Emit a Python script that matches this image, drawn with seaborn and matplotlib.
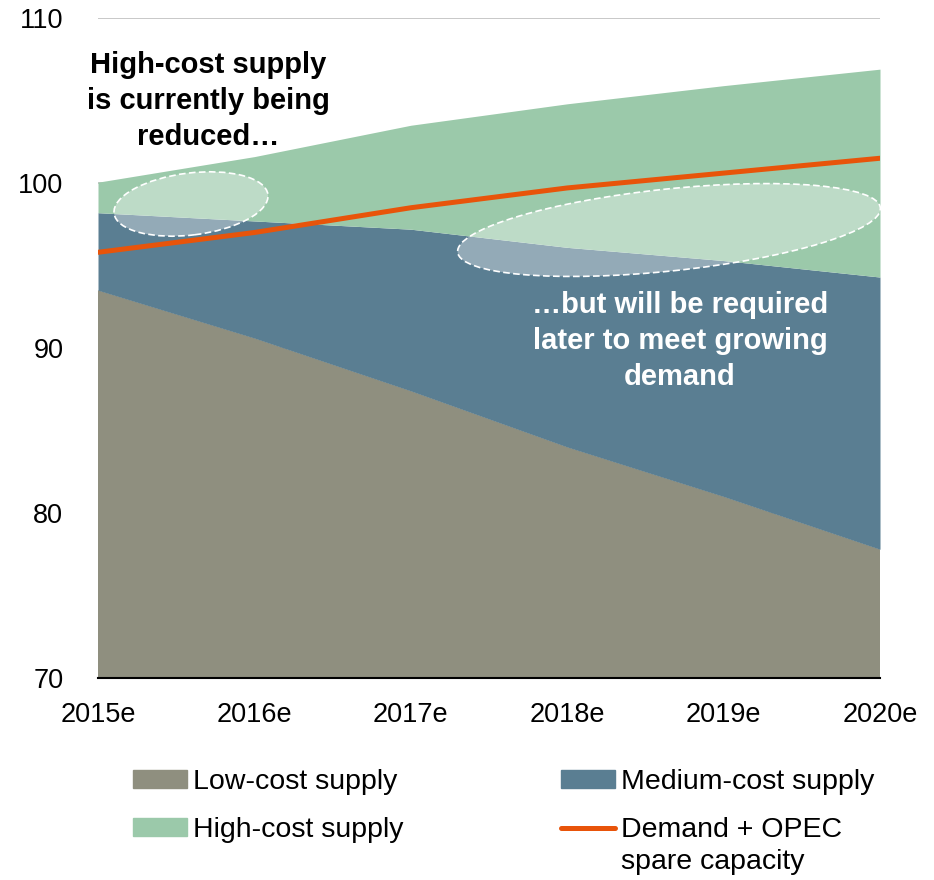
import matplotlib
matplotlib.use('Agg')
import matplotlib.pyplot as plt
from matplotlib.patches import Ellipse, Patch
from matplotlib.lines import Line2D
import seaborn as sns
import pandas as pd

sns.set_theme(style='white')
plt.rcParams['font.family'] = ['Liberation Sans', 'DejaVu Sans']
plt.rcParams['text.color'] = 'black'

# data (mb/d)
years = [2015, 2016, 2017, 2018, 2019, 2020]
year_labels = ['2015e', '2016e', '2017e', '2018e', '2019e', '2020e']
low_cost = [93.5, 90.6, 87.4, 84.0, 81.0, 77.8]
medium_cost = [4.7, 7.1, 9.8, 12.1, 14.3, 16.5]
high_cost = [1.85, 3.9, 6.3, 8.7, 10.6, 12.6]
demand = [95.8, 97.0, 98.5, 99.7, 100.6, 101.5]

c_low = '#8f8f7f'
c_med = '#5a7e92'
c_high = '#9bc9aa'
c_dem = '#e8540a'

df = pd.DataFrame({'year': years, 'low': low_cost, 'medium': medium_cost,
                   'high': high_cost, 'demand': demand})

fig = plt.figure(figsize=(9.34, 8.8), dpi=100)
ax = fig.add_axes([98/934, 1-678/880, (880-98)/934, (678-18)/880])

ax.stackplot(df['year'], df['low'], df['medium'], df['high'],
             colors=[c_low, c_med, c_high], linewidth=0, zorder=2)
sns.lineplot(x='year', y='demand', data=df, color=c_dem, linewidth=3.6,
             ax=ax, zorder=4, legend=False)

ax.set_xlim(2015, 2020)
ax.set_ylim(70, 110)
ax.set_yticks([70, 80, 90, 100, 110])
ax.set_xticks(years)
ax.set_xticklabels(year_labels)
ax.set_xlabel('')
ax.set_ylabel('')
ax.tick_params(axis='y', length=0, pad=25, labelsize=19.5, colors='black')
ax.tick_params(axis='x', length=0, pad=17, labelsize=19.5, colors='black')
ax.yaxis.grid(True, color='#bfbfbf', linewidth=1.2, zorder=0)
ax.set_axisbelow(True)
for s in ['left', 'right', 'top']:
    ax.spines[s].set_visible(False)
ax.spines['bottom'].set_color('black')
ax.spines['bottom'].set_linewidth(1.5)
ax.spines['bottom'].set_zorder(5)

# highlight ellipses (figure inches)
for (cx, cy, w, h, ang) in [(1.91, 6.76, 1.55, 0.62, 7), (6.69, 6.50, 4.25, 0.82, 6.0)]:
    e = Ellipse((cx, cy), w, h, angle=ang, transform=fig.dpi_scale_trans,
                facecolor=(1, 1, 1, 0.35), edgecolor='white', linestyle=(0, (4, 2)),
                linewidth=1.2, zorder=6)
    fig.add_artist(e)

fig.text(208/934, 1-101/880, 'High-cost supply\nis currently being\nreduced…',
         ha='center', va='center', fontsize=21, fontweight='bold', color='black',
         linespacing=1.35)
fig.text(680/934, 1-341/880, '…but will be required\nlater to meet growing\ndemand',
         ha='center', va='center', fontsize=21, fontweight='bold', color='white',
         linespacing=1.35)

leg_kw = dict(frameon=False, fontsize=20.5, handlelength=1.9, handleheight=0.56,
              handletextpad=0.2, labelspacing=0.78, borderpad=0, borderaxespad=0,
              loc='upper left', labelcolor='black')
leg1 = fig.legend([Patch(color=c_low), Patch(color=c_high)],
                  ['Low-cost supply', 'High-cost supply'],
                  bbox_to_anchor=(133/934, 1-769/880), **leg_kw)
leg2 = fig.legend([Patch(color=c_med), Line2D([], [], color=c_dem, linewidth=3.6)],
                  ['Medium-cost supply', 'Demand + OPEC'],
                  bbox_to_anchor=(561/934, 1-769/880), **leg_kw)
fig.text(621/934, 1-862/880, 'spare capacity', ha='left', va='center',
         fontsize=20.5, color='black')

fig.savefig('out.png', dpi=100)
